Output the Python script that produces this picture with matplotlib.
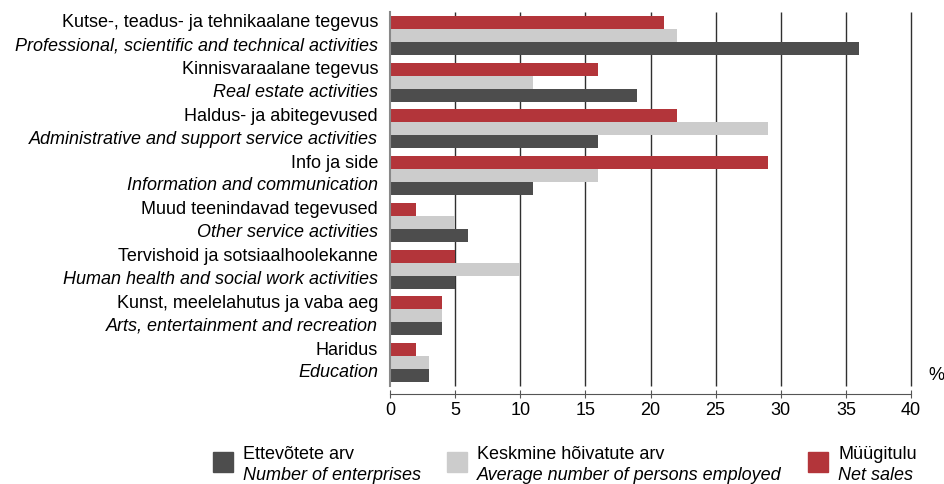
import numpy as np
import matplotlib.pyplot as plt
from matplotlib.patches import Rectangle
from matplotlib.transforms import blended_transform_factory

plt.rcParams['font.family'] = ['Liberation Sans', 'DejaVu Sans']

# tegevusalad (ülevalt alla)
labels_et = ['Kutse-, teadus- ja tehnikaalane tegevus', 'Kinnisvaraalane tegevus',
             'Haldus- ja abitegevused', 'Info ja side', 'Muud teenindavad tegevused',
             'Tervishoid ja sotsiaalhoolekanne', 'Kunst, meelelahutus ja vaba aeg', 'Haridus']
labels_en = ['Professional, scientific and technical activities', 'Real estate activities',
             'Administrative and support service activities', 'Information and communication',
             'Other service activities', 'Human health and social work activities',
             'Arts, entertainment and recreation', 'Education']

enterprises = [36, 19, 16, 11, 6, 5, 4, 3]
employed = [22, 11, 29, 16, 5, 10, 4, 3]
net_sales = [21, 16, 22, 29, 2, 5, 4, 2]
xticks = list(range(0, 41, 5))

c_dark = '#4d4d4d'
c_light = '#cccccc'
c_red = '#b3353a'
fs = 13

fig = plt.figure(figsize=(9.44, 4.85), dpi=100)
ax = fig.add_axes([390/944, 1-387/485, 521/944, 374/485])

n = len(labels_et)
y = np.arange(n)[::-1]
h = 0.278
ax.barh(y + h, net_sales, height=h, color=c_red, zorder=3)
ax.barh(y, employed, height=h, color=c_light, zorder=3)
ax.barh(y - h, enterprises, height=h, color=c_dark, zorder=3)

ax.set_xlim(0, 40)
ax.set_ylim(-0.5, n - 0.5)
ax.set_xticks(xticks)
# vertical gridlines, including the one at the right edge
ax.vlines(xticks[1:], -0.5, n - 0.5, color='#303030', linewidth=1.0, zorder=0, clip_on=False)
ax.set_yticks([])
for s in ['top', 'right']:
    ax.spines[s].set_visible(False)
ax.spines['left'].set_color('#888888')
ax.spines['left'].set_linewidth(1.5)
ax.spines['left'].set_zorder(4)
ax.spines['bottom'].set_position(('outward', 6))
ax.spines['bottom'].set_color('#555555')
ax.tick_params(axis='x', direction='inout', length=6, color='#555555', labelsize=fs, pad=2)

tr = blended_transform_factory(ax.transAxes, ax.transData)
for yi, et, en in zip(y, labels_et, labels_en):
    ax.text(-0.023, yi + 0.29, et, transform=tr, ha='right', va='center', fontsize=fs)
    ax.text(-0.023, yi - 0.2, en, transform=tr, ha='right', va='center', fontsize=fs,
            style='italic')

fig.text(928/944, 1-376/485, '%', ha='left', va='center', fontsize=fs)

# legend drawn by hand: square + two-line label
legend = [(c_dark, 'Ettevõtete arv', 'Number of enterprises', 213),
          (c_light, 'Keskmine hõivatute arv', 'Average number of persons employed', 447),
          (c_red, 'Müügitulu', 'Net sales', 808)]
for col, et, en, x0 in legend:
    fig.add_artist(Rectangle((x0/944, 1-473/485), 20/944, 20/485,
                             transform=fig.transFigure, color=col))
    fig.text((x0+30)/944, 1-455/485, et, ha='left', va='center', fontsize=fs)
    fig.text((x0+30)/944, 1-476/485, en, ha='left', va='center', fontsize=fs,
             style='italic')

fig.savefig('out.png', dpi=100)
